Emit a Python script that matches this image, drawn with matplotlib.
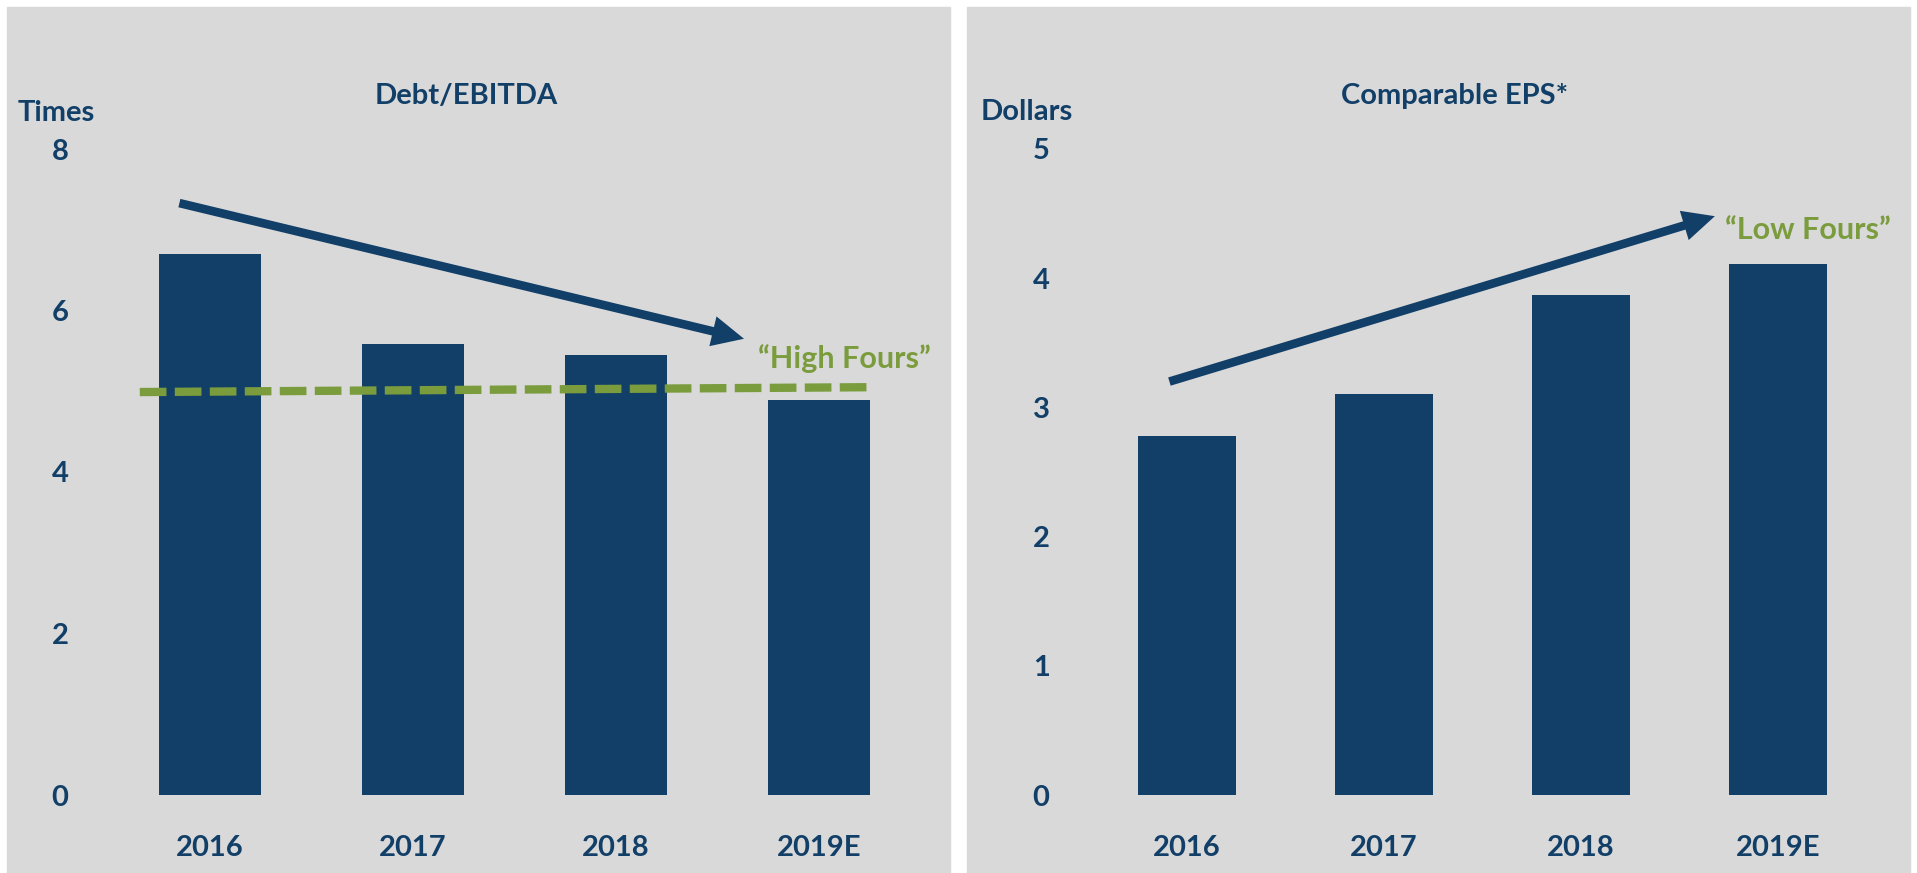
import matplotlib.pyplot as plt
from matplotlib.patches import Rectangle

# data
years = ['2016', '2017', '2018', '2019E']
debt_ebitda = [6.70, 5.59, 5.45, 4.89]
eps = [2.78, 3.10, 3.87, 4.11]

navy = '#123f68'
green = '#7a9c3d'
panel = '#d9d9d9'
font = 'Lato'

W, H = 1917, 873
fig = plt.figure(figsize=(W / 100, H / 100), dpi=100)
fig.patch.set_facecolor('white')

# gray panels behind each chart
fig.patches.append(Rectangle((7 / W, 0), (950 - 7) / W, (H - 7) / H,
                             transform=fig.transFigure, color=panel, zorder=-5))
fig.patches.append(Rectangle((967 / W, 0), (1910 - 967) / W, (H - 7) / H,
                             transform=fig.transFigure, color=panel, zorder=-5))


def make_axes(x0, x1):
    # pixel box -> figure fraction, y from 0 at 795px to top at 149px
    ax = fig.add_axes([x0 / W, (H - 795) / H, (x1 - x0) / W, (795 - 149) / H])
    ax.set_facecolor('none')
    for s in ax.spines.values():
        s.set_visible(False)
    ax.tick_params(length=0)
    ax.set_xlim(-0.6, 3.6)
    return ax


# filled arrow, sharp head
arrow = dict(arrowstyle='simple,head_length=2.3,head_width=2.2,tail_width=0.62', lw=0,
             color=navy, mutation_scale=10, shrinkA=0, shrinkB=0)

# ---------------- left: Debt/EBITDA
ax1 = make_axes(88, 941)
ax1.bar(range(4), debt_ebitda, width=0.5, color=navy, zorder=2)
ax1.set_ylim(0, 8)
ax1.set_yticks([0, 2, 4, 6, 8])
ax1.set_xticks(range(4))
ax1.set_xticklabels(years, fontsize=21, fontweight='bold', family=font, color=navy)
ax1.set_yticklabels(['0', '2', '4', '6', '8'], fontsize=21, fontweight='bold', family=font, color=navy)
ax1.tick_params(axis='x', pad=29)
ax1.tick_params(axis='y', pad=14)

ax1.plot([-0.345, 3.24], [4.99, 5.05], color=green, lw=6, dashes=(3.2, 1.0),
         solid_capstyle='butt', dash_capstyle='butt', zorder=3, clip_on=False)
ax1.annotate('', xy=(2.63, 5.65), xytext=(-0.15, 7.33), arrowprops=arrow, zorder=4)
ax1.text(2.70, 5.41, '\u201cHigh Fours\u201d', color=green, fontsize=22, fontweight='bold',
         family=font, va='center', ha='left')

fig.text(466 / W, 1 - 96 / H, 'Debt/EBITDA', color=navy, fontsize=21, fontweight='bold',
         family=font, ha='center', va='center')
fig.text(56 / W, 1 - 113 / H, 'Times', color=navy, fontsize=21, fontweight='bold',
         family=font, ha='center', va='center')

# ---------------- right: Comparable EPS
ax2 = make_axes(1069, 1896)
ax2.bar(range(4), eps, width=0.5, color=navy, zorder=2)
ax2.set_ylim(0, 5)
ax2.set_yticks([0, 1, 2, 3, 4, 5])
ax2.set_xticks(range(4))
ax2.set_xticklabels(years, fontsize=21, fontweight='bold', family=font, color=navy)
ax2.set_yticklabels([str(v) for v in range(6)], fontsize=21, fontweight='bold', family=font, color=navy)
ax2.tick_params(axis='x', pad=29)
ax2.tick_params(axis='y', pad=14)

ax2.annotate('', xy=(2.68, 4.48), xytext=(-0.09, 3.20), arrowprops=arrow, zorder=4)
ax2.text(2.73, 4.375, '\u201cLow Fours\u201d', color=green, fontsize=22, fontweight='bold',
         family=font, va='center', ha='left')

fig.text(1455 / W, 1 - 96 / H, 'Comparable EPS*', color=navy, fontsize=21, fontweight='bold',
         family=font, ha='center', va='center')
fig.text(1027 / W, 1 - 112 / H, 'Dollars', color=navy, fontsize=21, fontweight='bold',
         family=font, ha='center', va='center')

fig.savefig('out.png', dpi=100)
